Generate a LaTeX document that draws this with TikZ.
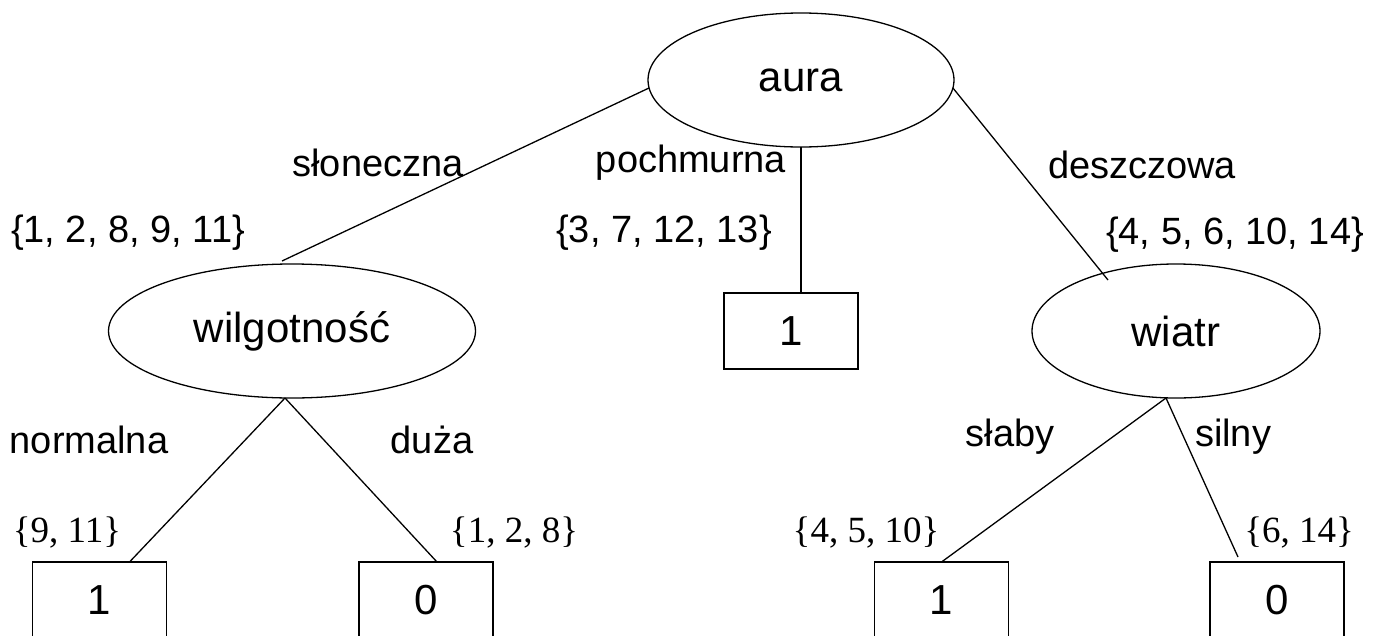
\documentclass[tikz,border=0pt]{standalone}
\usepackage{fontspec}
\setmainfont{Liberation Sans}
\newfontfamily\timesfont{Liberation Serif}
\usetikzlibrary{shapes.geometric}
\begin{document}
\begin{tikzpicture}[x=1pt,y=-1pt,
  every node/.style={inner sep=0pt, outer sep=0pt},
  ell/.style={draw, ellipse, line width=1.3pt, minimum height=134pt, font=\fontsize{42}{46}\selectfont},
  leaf/.style={draw, rectangle, line width=1.3pt, minimum width=134pt, minimum height=76pt, font=\fontsize{42}{46}\selectfont},
  lbl/.style={font=\fontsize{38}{42}\selectfont},
  setl/.style={font=\timesfont\fontsize{37}{40}\selectfont},
  edge/.style={line width=1.3pt}]
\useasboundingbox (0,0) rectangle (1379,635);
\clip (0,0) rectangle (1379,635);
\fill[white] (0,0) rectangle (1379,635);

\node[ell, minimum width=306pt] (aura) at (801,80) {aura};
\node[ell, minimum width=367pt] (wil) at (292,331) {wilgotność};
\node[ell, minimum width=288pt] (wiatr) at (1176,331) {wiatr};

\node[leaf] (mid) at (791,331) {1};
\node[leaf] (b1) at (99.5,600) {1};
\node[leaf] (b2) at (426,600) {0};
\node[leaf] (b3) at (941.5,600) {1};
\node[leaf] (b4) at (1277,600) {0};

\draw[edge] (aura.183) -- ([shift={(-10pt,3pt)}]wil.north);
\draw[edge] (aura.south) -- (mid.north -| aura.south);
\draw[edge] (aura.-3) -- ([shift={(-68pt,51pt)}]wiatr.center);
\draw[edge] ([xshift=-7pt]wil.south) -- ([xshift=30pt]b1.north);
\draw[edge] ([xshift=-7pt]wil.south) -- ([xshift=11pt]b2.north);
\draw[edge] ([xshift=-10pt]wiatr.south) -- (b3.north);
\draw[edge] ([xshift=-10pt]wiatr.south) -- ([shift={(-39pt,5pt)}]b4.north);

\node[lbl] (l1) at (378,163) {słoneczna};
\node[lbl] (l2) at (691,163) {pochmurna};
\node[lbl] (l3) at (1142,165) {deszczowa};
\node[lbl] (s1) at (128,233) {\{1, 2, 8, 9, 11\}};
\node[lbl] (s2) at (664,233) {\{3, 7, 12, 13\}};
\node[lbl] (s3) at (1235,235) {\{4, 5, 6, 10, 14\}};
\node[lbl] (l4) at (89,440) {normalna};
\node[lbl] (l5) at (432,440) {duża};
\node[lbl] (l6) at (1010,437) {słaby};
\node[lbl] (l7) at (1233,437) {silny};
\node[setl] (t1) at (67,533) {\{9, 11\}};
\node[setl] (t2) at (514,533) {\{1, 2, 8\}};
\node[setl] (t3) at (866,533) {\{4, 5, 10\}};
\node[setl] (t4) at (1299,533) {\{6, 14\}};
\end{tikzpicture}
\end{document}
